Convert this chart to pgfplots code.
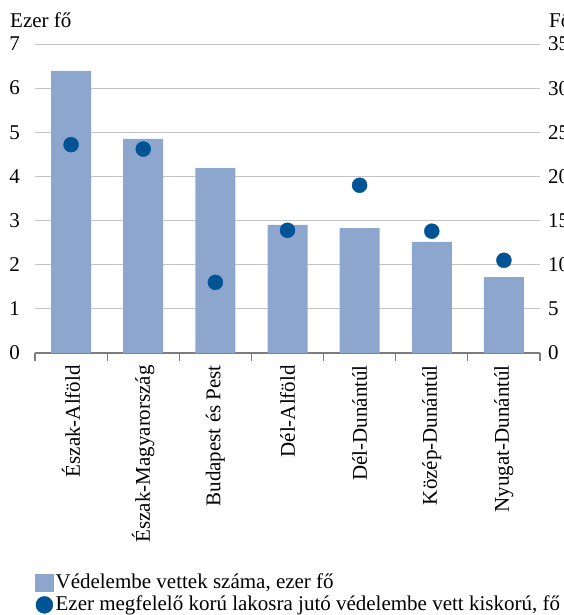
\documentclass[border=0pt]{standalone}
\usepackage{fontspec}
\setmainfont{Liberation Serif}
\usepackage{pgfplots}
\pgfplotsset{compat=1.18}
\definecolor{barcol}{RGB}{141,166,205}
\definecolor{dotcol}{RGB}{0,84,150}
\definecolor{gridcol}{RGB}{195,195,195}
\definecolor{axcol}{RGB}{125,125,125}
\begin{document}
\fontsize{21}{21}\selectfont
\begin{tikzpicture}
\pgfplotsset{
  common/.style={
    scale only axis, width=505pt, height=309pt,
    xmin=-0.5, xmax=6.5, ymin=0,
    font=\fontsize{21}{21}\selectfont,
    /pgf/number format/assume math mode=true,
    y axis line style={draw=none},
    ytick style={draw=none},
  }
}
\begin{axis}[common, name=a, ymax=7, ytick={0,...,7},
  axis y line*=left, axis x line*=bottom,
  x axis line style={axcol, line width=1.2pt, -},
  ymajorgrids, grid style={gridcol, line width=1pt},
  xtick={0,...,6},
  xticklabels={Észak-Alföld,Észak-Magyarország,Budapest és Pest,Dél-Alföld,Dél-Dunántúl,Közép-Dunántúl,Nyugat-Dunántúl},
  xtick style={draw=none},
  xticklabel style={rotate=90, anchor=east, inner sep=0pt},
  xticklabel shift=12pt,
  extra x ticks={-0.5,0.5,1.5,2.5,3.5,4.5,5.5,6.5},
  extra x tick labels={},
  extra x tick style={tick align=outside, major tick length=8pt, xtick style={draw=axcol, line width=1.2pt}},
  yticklabel style={anchor=east, inner sep=0pt, xshift=-15pt},
]
\addplot[ybar, bar width=40pt, fill=barcol, draw=none] coordinates {
(0,6.39) (1,4.85) (2,4.19) (3,2.90) (4,2.83) (5,2.52) (6,1.72)};
\end{axis}
\begin{axis}[common, ymax=35, ytick={0,5,...,35},
  axis y line*=right, axis x line=none,
  yticklabel style={anchor=west, inner sep=0pt, xshift=8pt},
  legend style={at={(axis description cs:0,-0.708)}, anchor=north west, draw=none, fill=none, inner sep=0pt, row sep=0pt,
    font=\fontsize{21}{21}\selectfont},
  legend cell align=left,
]
\addlegendimage{legend image code/.code={\fill[barcol] (0pt,-8pt) rectangle (18pt,9pt);}}
\addlegendentry{Védelembe vettek száma, ezer fő}
\addplot[only marks, mark=*, mark size=7.5pt, color=dotcol,
  legend image code/.code={\fill[dotcol] (9pt,0pt) circle (8.5pt);}] coordinates {
(0,23.6) (1,23.1) (2,8.0) (3,13.9) (4,19.0) (5,13.8) (6,10.5)};
\addlegendentry{Ezer megfelelő korú lakosra jutó védelembe vett kiskorú, fő}
\end{axis}
\node[anchor=base west, inner sep=0pt] at ([xshift=-25pt,yshift=16pt]a.north west) {Ezer fő};
\node[anchor=base west, inner sep=0pt] at ([xshift=9pt,yshift=16pt]a.north east) {Fő};
\pgfresetboundingbox
\path[use as bounding box] ([xshift=-35pt,yshift=-262pt]a.south west) rectangle ([xshift=24pt,yshift=44pt]a.north east);
\end{tikzpicture}
\end{document}
